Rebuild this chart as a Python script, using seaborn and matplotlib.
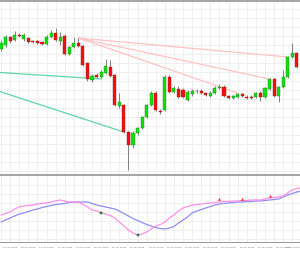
import numpy as np
import pandas as pd
import matplotlib
matplotlib.use("Agg")
import matplotlib.pyplot as plt
import seaborn as sns

# ---- candle data (points above 1.0800 base, 1 point = 0.0001) ----
base = 1.0800
open_pts = [125, 129, 137, 134, 139, 135, 135.5, 133, 132.5, 132, 130, 137, 141, 133, 138, 120, 127, 131, 128, 111,
            94, 99, 97, 101, 107, 99, 68, 69, 42, 29, 41, 46, 57, 69, 81, 63, 64, 97, 82, 85,
            84, 74, 80, 83, 83, 81, 78, 81, 86, 87, 78, 76, 77, 79.5, 77.5, 77, 77, 81, 77, 85,
            95, 78, 87, 97, 117, 121]
close_pts = [131, 137, 133, 139, 138, 139, 132, 132, 131, 130, 137, 141, 134, 137, 120, 127, 131, 128, 109, 95,
             98, 97, 102, 108, 98, 69, 72, 42, 29, 41, 46, 57, 69, 81, 64, 62, 97, 82, 86, 77,
             77, 82, 83, 82.5, 81, 79.5, 81, 86, 87, 78, 76, 77.5, 80, 78, 76.5, 76, 81, 77, 86, 95,
             78, 87, 97, 117, 121, 107]
high_pts = [134, 139, 138, 143, 141, 141, 137, 134, 134, 133, 139, 144, 146, 142, 140, 128, 137, 136, 129, 112,
            100, 101, 104, 115, 114, 100, 81, 70, 43, 43, 47, 58, 70, 83, 83, 65, 99, 99, 88, 88,
            86, 84, 85, 85, 85, 82, 83, 88, 90, 89, 79, 79, 81, 81, 79, 79, 82, 83, 87, 96,
            96, 88, 104, 118, 131, 122]
low_pts = [123, 127, 131, 133, 137, 133, 131, 131, 130, 129, 129, 136, 133, 129, 119, 119, 126, 127, 108, 93,
           92, 96, 96, 100, 97, 68, 66, 41, 4, 26, 39, 45, 56, 68, 63, 60, 63, 81, 81, 76,
           76, 73, 78, 81, 80, 78, 77, 80, 85, 77, 75, 75, 76, 77, 75, 75, 76, 73, 76, 84,
           77, 72, 86, 96, 116, 106]

# ---- oscillator (sub window) ----
osc_fast = [-6, -4.5, -3, 0, 2, 3, 3.5, 4, 5, 5.5, 6, 7, 8, 9, 8, 7, 7, 7, 4.5, 2,
            -1, -2, -3.5, -5, -6.5, -9, -13, -17, -21, -24, -26, -25, -23, -20, -17, -15.5, -13, -9, -6, -2,
            1, 2.5, 4, 4.5, 5, 5.5, 6, 6.5, 7, 7.5, 7.5, 8, 8, 8.5, 8.5, 9, 9, 9, 10, 11,
            11.5, 12, 13, 16, 19, 20.5]
osc_slow = [-13, -11, -9, -7, -5, -4, -2.5, -1, 0, 1.5, 2.5, 3.5, 4.5, 5, 5.5, 6.5, 7, 7, 7, 7,
            5.5, 4, 3, 2, 1, 0, -2, -4.5, -7, -9.5, -11.5, -13.5, -15.5, -17, -18.5, -19.5, -20, -19, -17.5, -14,
            -11, -8, -4, -2, -0.5, 1, 2.5, 4, 5, 5.5, 6, 6.5, 7, 7, 7.5, 7.5, 8, 8, 8.5, 9,
            9.5, 10, 12, 14, 15.5, 17]
buy_idx = [22, 30]
buy_val = [-4, -26]
sell_idx = [48, 53, 59]
sell_val = [10, 10, 13]

# ---- trend lines (index, points) ----
pink_lines = [((17, 136), (63, 117)), ((17, 136), (59, 95)), ((17, 136), (52, 81))]
green_lines = [((-0.3, 101.5), (22, 95)), ((-0.3, 82.5), (27, 42))]

time_labels = ["24 Apr 04:00", "24 Apr 08:00", "24 Apr 12:00", "24 Apr 16:00", "24 Apr 20:00",
               "25 Apr 00:00", "25 Apr 04:00", "25 Apr 08:00", "25 Apr 12:00", "25 Apr 16:00",
               "25 Apr 20:00", "26 Apr 00:00", "26 Apr 04:00", "26 Apr 08:00", "26 Apr 12:00",
               "26 Apr 16:00", "26 Apr 20:00"]

n = len(open_pts)
idx = np.arange(n)
o = base + np.array(open_pts) / 10000
c = base + np.array(close_pts) / 10000
h = base + np.array(high_pts) / 10000
l = base + np.array(low_pts) / 10000

sns.set_style("white")
plt.rcParams["font.family"] = ["DejaVu Sans"]

W, H = 300, 258
fig = plt.figure(figsize=(W / 100, H / 100), dpi=100)
fig.patch.set_facecolor("white")

def fy(px_top, px_bot):
    return (H - px_bot) / H, (px_bot - px_top) / H

xlo, xhi = -0.22, 65.7
b, hh = fy(2, 174)
ax = fig.add_axes([0, b, 1, hh])
b2, hh2 = fy(176, 242)
ax2 = fig.add_axes([0, b2, 1, hh2])

grid_c = "#ececec"
for a in (ax, ax2):
    a.set_xlim(xlo, xhi)
    a.set_xticks(np.arange(0, 66, 2))
    a.grid(True, color=grid_c, linewidth=0.6)
    a.tick_params(length=0, labelbottom=False, labelleft=False)
    for s in a.spines.values():
        s.set_visible(False)
    a.set_axisbelow(True)

ax.set_ylim(base + 0 / 10000, base + 172 / 10000)
ax.set_yticks(base + np.arange(3, 172, 9) / 10000)

# trend lines
for (x0, y0), (x1, y1) in pink_lines:
    ax.plot([x0, x1], [base + y0 / 10000, base + y1 / 10000], color="#ffc2c2", lw=0.9, zorder=2)
for (x0, y0), (x1, y1) in green_lines:
    ax.plot([x0, x1], [base + y0 / 10000, base + y1 / 10000], color="#5ed6a6", lw=0.9, zorder=2)

# candles
up = c >= o
ax.vlines(idx, l, h, color="#808080", lw=0.7, zorder=3)
ax.bar(idx[up], (c - o)[up], bottom=o[up], width=0.68, color="#10e010", edgecolor="#208020", lw=0.3, zorder=4)
ax.bar(idx[~up], (o - c)[~up], bottom=c[~up], width=0.68, color="#f01010", edgecolor="#a02020", lw=0.3, zorder=4)

# oscillator
ax2.set_ylim(-33, 33)
ax2.set_yticks(np.arange(-30, 33, 9))
df = pd.DataFrame({"i": idx, "fast": osc_fast, "slow": osc_slow})
sns.lineplot(data=df, x="i", y="slow", ax=ax2, color="#8f8cf5", lw=0.9, legend=False)
sns.lineplot(data=df, x="i", y="fast", ax=ax2, color="#ff8fe6", lw=0.9, legend=False)
ax2.plot([65, 66.5], [osc_fast[-1], osc_fast[-1] + 1.5], color="#ff8fe6", lw=0.9)
ax2.plot([65, 66.5], [osc_slow[-1], osc_slow[-1] + 1.5], color="#8f8cf5", lw=0.9)
sns.scatterplot(x=buy_idx, y=buy_val, ax=ax2, marker="s", s=2.5, color="#20c040", edgecolor="#103010", lw=0.3, zorder=5)
sns.scatterplot(x=sell_idx, y=sell_val, ax=ax2, marker="^", s=3.5, color="#ff3030", edgecolor="#ff3030", lw=0.2, zorder=5)
ax2.set_xlabel("")
ax2.set_ylabel("")
ax2.set_xlim(xlo, xhi)

# separators
fig.add_artist(plt.Rectangle((0, (H - 2) / H), 1, 2 / H, transform=fig.transFigure, color="#a6a6a6", lw=0))
fig.add_artist(plt.Rectangle((0, (H - 176) / H), 1, 2 / H, transform=fig.transFigure, color="#a6a6a6", lw=0))
fig.add_artist(plt.Rectangle((0, (H - 243) / H), 1, 1.2 / H, transform=fig.transFigure, color="#9a9a9a", lw=0))

# time labels
for k, lab in enumerate(time_labels):
    xi = k * 4
    xf = (xi - xlo) / (xhi - xlo)
    if k == len(time_labels) - 1:
        fig.text(1 - 1 / W, (H - 247) / H, lab, fontsize=1.6, color="#555555", ha="right", va="center")
    else:
        fig.text(xf + 2 / W, (H - 247) / H, lab, fontsize=1.6, color="#555555", ha="left", va="center")

fig.savefig("out.png", dpi=100, facecolor="white")
